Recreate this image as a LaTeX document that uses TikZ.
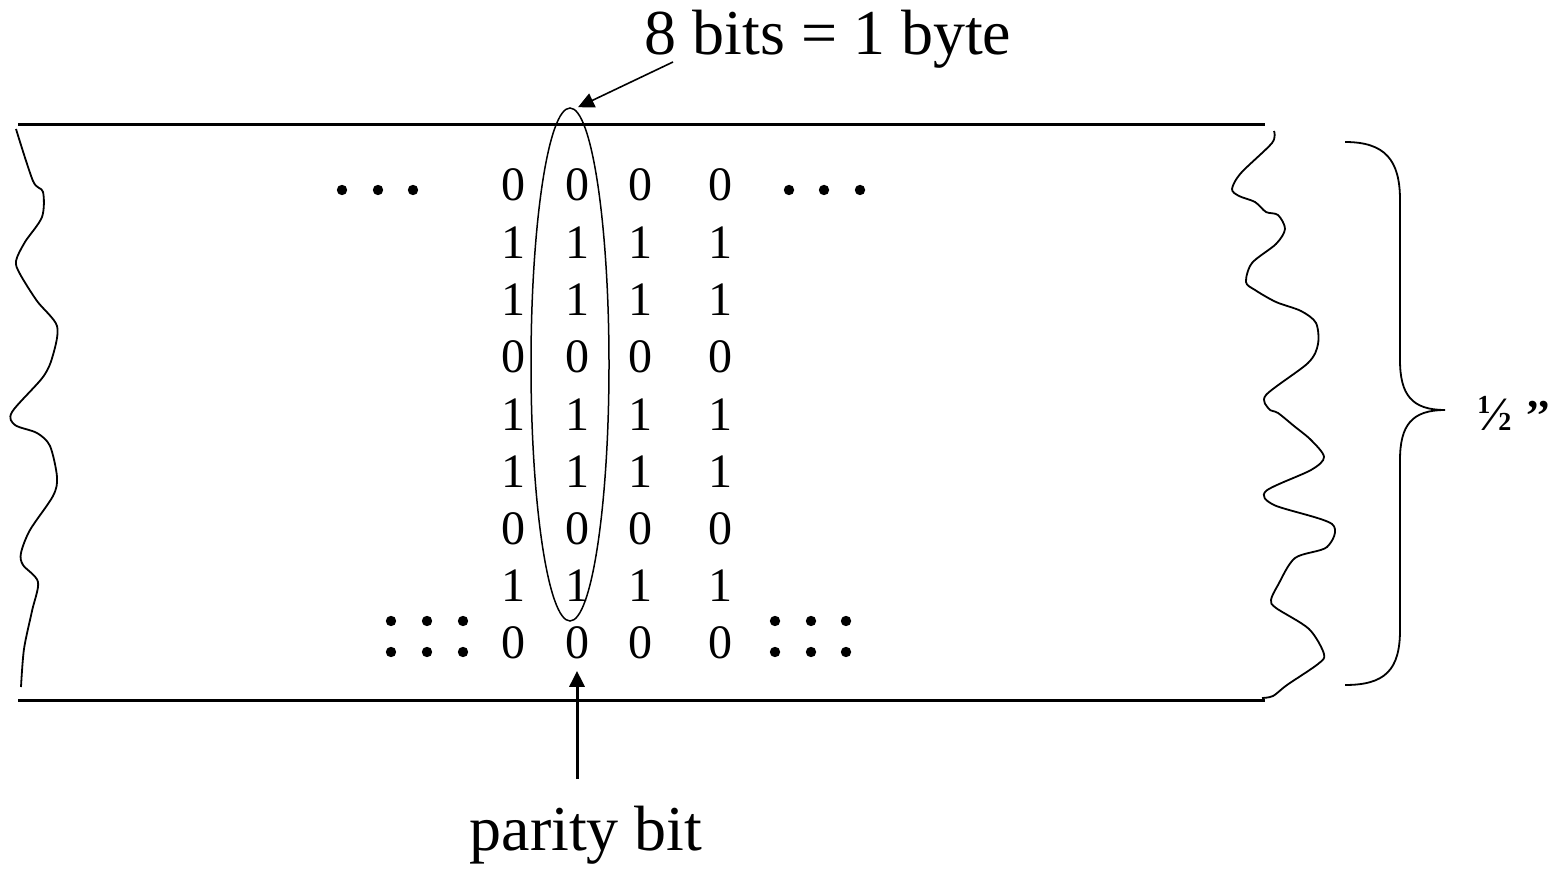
\documentclass[tikz,border=0pt]{standalone}
\usepackage{fontspec}
\setmainfont{Liberation Serif}
\usetikzlibrary{shapes.geometric, arrows.meta}

\begin{document}
\begin{tikzpicture}[
  x=0.5pt, y=-0.5pt,
  bit/.style={inner sep=0pt, font=\fontsize{24}{28}\selectfont},
  label/.style={inner sep=0pt, font=\fontsize{32}{38}\selectfont},
  tape/.style={line width=1.5pt},
  edge/.style={line width=0.9pt, line join=round},
  arrow/.style={-{Triangle[length=8pt, width=7.5pt]}}
]
  \useasboundingbox (0,0) rectangle (1558,871);

  % tape borders
  \draw[tape] (18,125) -- (1265,125);
  \draw[tape] (18,700) -- (1265,700);
  \draw[edge] plot[smooth, tension=0.5] coordinates {(16,129) (33,181) (43,192) (42,217) (25,242) (16,261) (20,274) (37,301) (57,326) (53,355) (43,377) (12,412) (15,425) (37,433) (50,446) (57,477) (53,496) (30,530) (21,553) (23,565) (38,582) (32,611) (24,649) (21,687)};
  \draw[edge] plot[smooth, tension=0.5] coordinates {(1274,131) (1272,143) (1241,173) (1232,189) (1239,196) (1255,202) (1266,212) (1278,215) (1285,229) (1276,244) (1252,263) (1246,282) (1255,290) (1276,302) (1301,311) (1316,323) (1318,344) (1308,363) (1266,395) (1269,409) (1278,413) (1294,426) (1311,440) (1324,457) (1311,470) (1266,491) (1274,505) (1332,524) (1327,547) (1295,558) (1278,585) (1271,600) (1276,608) (1309,629) (1324,654) (1318,664) (1287,685) (1273,696) (1262,698)};

  % tracks
  \foreach \b [count=\r] in {0,1,1,0,1,1,0,1,0}
    \foreach \x [count=\c] in {513,577,640,720}
      \node[bit] (b\r\c) at (\x,{128+57.25*\r}) {\b};

  \foreach \x in {342,378,413,789,824,860}
    \fill (\x,190) circle (2.6pt);
  \foreach \x in {391,427,463,775,811,846} {
    \fill (\x,621) circle (2.6pt);
    \fill (\x,652) circle (2.6pt);
  }

  \node[draw, ellipse, inner sep=0pt, line width=0.75pt,
        minimum width=39pt, minimum height=256.5pt] (byte) at (570,364.5) {};

  \node[label, anchor=base] (bytelbl) at (828,55) {8 bits = 1 byte};
  \node[label, anchor=base] (parity) at (586,850) {parity bit};
  \coordinate (bytefrom) at (673,62);

  \draw[arrow, line width=0.8pt] (bytefrom) -- ([xshift=4pt]byte.north);
  \draw[arrow, line width=1.5pt, shorten <=13pt, shorten >=5.5pt]
    (parity.north -| b92) -- (b92.south);

  % width brace
  \draw[line width=0.9pt] (1345,142) .. controls (1385,142) and (1400,160) .. (1400,200)
    -- (1400,360) .. controls (1400,395) and (1412,410) .. (1445,410)
    .. controls (1412,410) and (1400,425) .. (1400,460)
    -- (1400,630) .. controls (1400,670) and (1385,685) .. (1345,685);
  \node[anchor=base west, inner sep=0pt, font=\bfseries\fontsize{13}{15}\selectfont] (half) at (1477,430)
    {\raisebox{8.5pt}{1}{\fontsize{24}{26}\selectfont ⁄}2\kern7pt{\fontsize{22}{26}\selectfont’’}};
\end{tikzpicture}
\end{document}
